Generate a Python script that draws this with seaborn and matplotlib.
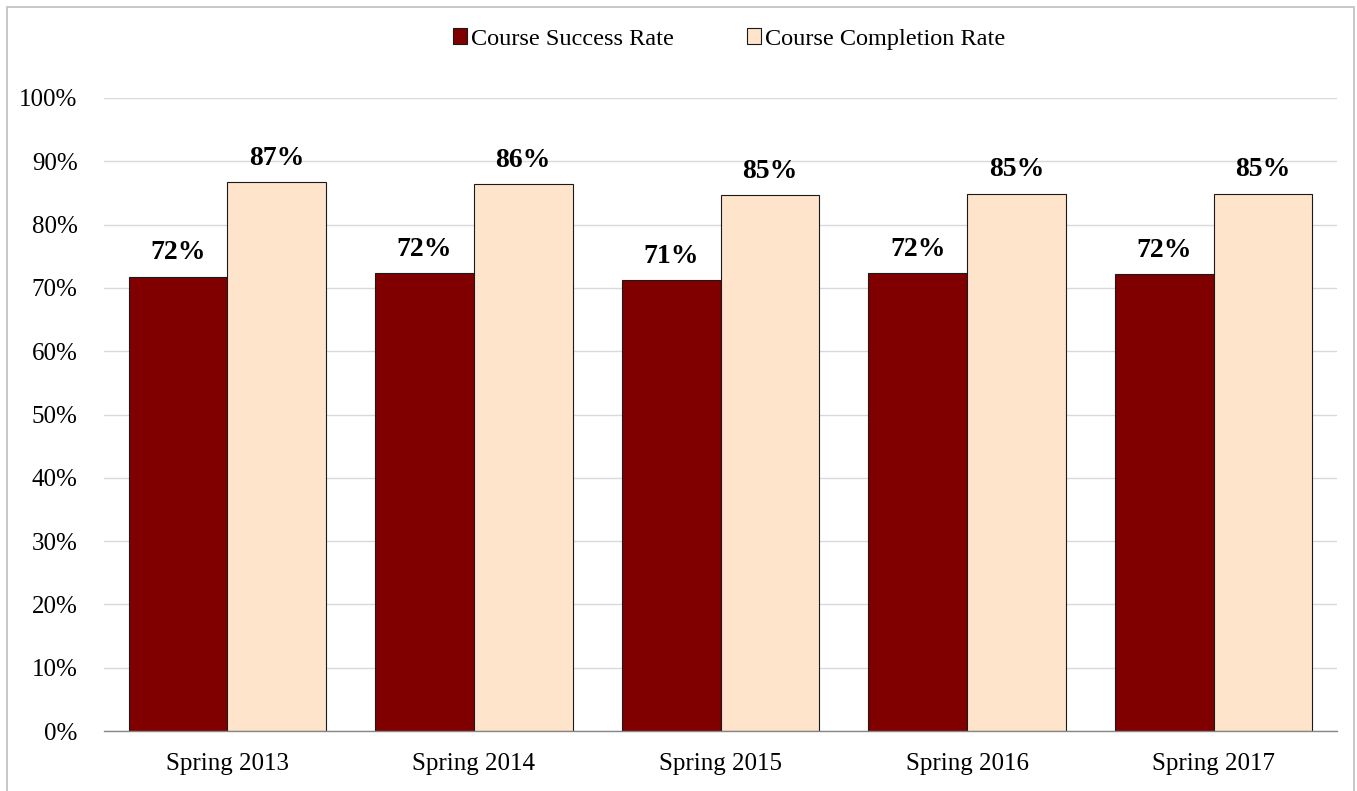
import pandas as pd
import matplotlib
matplotlib.use("Agg")
import matplotlib.pyplot as plt
import seaborn as sns
from matplotlib.patches import Rectangle
from matplotlib.ticker import PercentFormatter, FixedLocator

# Data
terms = ['Spring 2013', 'Spring 2014', 'Spring 2015', 'Spring 2016', 'Spring 2017']
success_rate = [0.718, 0.724, 0.713, 0.724, 0.722]
completion_rate = [0.867, 0.864, 0.846, 0.849, 0.849]
series = ['Course Success Rate', 'Course Completion Rate']
colors = ['#800000', '#FFE4CC']

df = pd.DataFrame({
    'term': terms * 2,
    'rate': success_rate + completion_rate,
    'series': [series[0]] * len(terms) + [series[1]] * len(terms),
})

sns.set_style('white')
plt.rcParams['font.family'] = ['Liberation Serif', 'DejaVu Serif']
plt.rcParams['text.color'] = 'black'
plt.rcParams['xtick.color'] = 'black'
plt.rcParams['ytick.color'] = 'black'

fig, ax = plt.subplots(figsize=(13.57, 7.91), dpi=100)
fig.subplots_adjust(left=104 / 1357, right=1337 / 1357, bottom=60 / 791, top=693 / 791)

sns.barplot(data=df, x='term', y='rate', hue='series', palette=colors, saturation=1,
            width=0.8, edgecolor='#1a1a1a', linewidth=0.8, ax=ax)

# value labels on top of bars
for c in ax.containers:
    ax.bar_label(c, labels=[f'{v * 100:.0f}%' for v in c.datavalues],
                 padding=8, fontsize=20, fontweight='bold', color='black')

ax.set_ylim(0, 1)
ax.set_xlim(-0.5, len(terms) - 0.5)
ax.set_yticks([i / 10 for i in range(11)])
ax.yaxis.set_major_formatter(PercentFormatter(1.0, decimals=0))
ax.yaxis.grid(True, color='#d9d9d9', linewidth=1)
ax.set_axisbelow(True)
ax.set_xlabel('')
ax.set_ylabel('')

for s in ['left', 'top', 'right']:
    ax.spines[s].set_visible(False)
ax.spines['bottom'].set_color('#868686')
ax.spines['bottom'].set_linewidth(1)

ax.tick_params(axis='y', length=0, pad=19, labelsize=18, labelcolor='black')
ax.tick_params(axis='x', which='major', length=0, pad=16, labelsize=18, labelcolor='black')
ax.xaxis.set_minor_locator(FixedLocator([i - 0.5 for i in range(len(terms) + 1)]))
ax.tick_params(axis='x', which='minor', length=5, width=1, color='#868686', direction='out')

sns.move_legend(ax, 'center', bbox_to_anchor=(0.507, 1.093), ncol=2, frameon=False,
                title=None, fontsize=17.5, handlelength=0.6, handleheight=0.6,
                handletextpad=0.15, columnspacing=3.0)

# outer chart border
fig.patches.append(Rectangle((7 / 1357, -0.01), (1354 - 7) / 1357, (1 - 7 / 791) + 0.01,
                             transform=fig.transFigure, fill=False,
                             edgecolor='#bfbfbf', linewidth=1.2))

fig.savefig('out.png', dpi=100)
